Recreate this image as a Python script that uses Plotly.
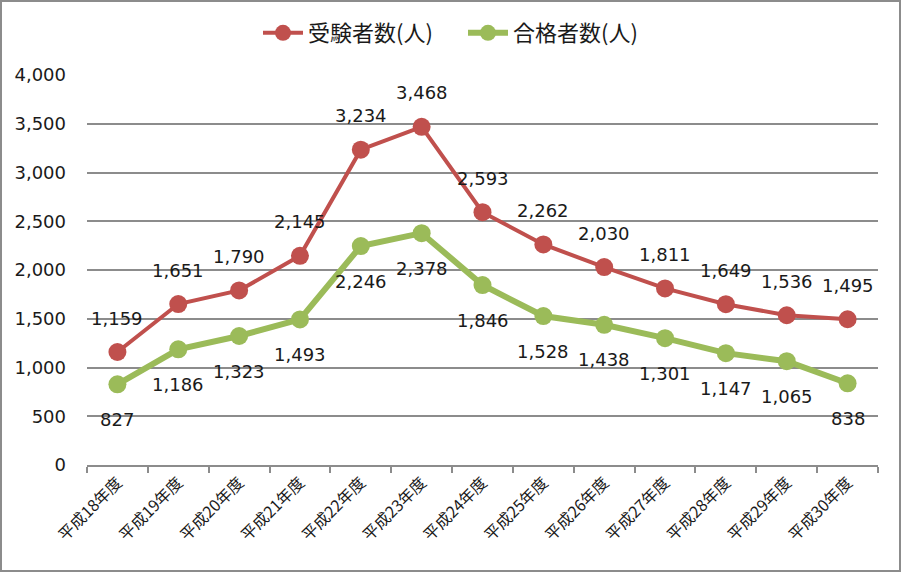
import plotly.graph_objects as go

categories = ["平成18年度", "平成19年度", "平成20年度", "平成21年度", "平成22年度", "平成23年度",
              "平成24年度", "平成25年度", "平成26年度", "平成27年度", "平成28年度", "平成29年度", "平成30年度"]
examinees = [1159, 1651, 1790, 2145, 3234, 3468, 2593, 2262, 2030, 1811, 1649, 1536, 1495]
passers = [827, 1186, 1323, 1493, 2246, 2378, 1846, 1528, 1438, 1301, 1147, 1065, 838]
y_ticks = [0, 500, 1000, 1500, 2000, 2500, 3000, 3500, 4000]

RED = "#C0504D"
GREEN = "#9BBB59"
FONT = "DejaVu Sans"
CJK = "Noto Sans CJK JP"

fig = go.Figure()
fig.add_trace(go.Scatter(x=categories, y=examinees, mode="lines+markers", name="受験者数(人)",
                         line=dict(color=RED, width=4), marker=dict(color=RED, size=18)))
fig.add_trace(go.Scatter(x=categories, y=passers, mode="lines+markers", name="合格者数(人)",
                         line=dict(color=GREEN, width=6), marker=dict(color=GREEN, size=18)))

annotations = []
for c, v in zip(categories, examinees):
    annotations.append(dict(x=c, y=v, text=f"{v:,}", showarrow=False, yshift=34,
                            font=dict(family=FONT, size=18, color="#1a1a1a")))
for c, v in zip(categories, passers):
    annotations.append(dict(x=c, y=v, text=f"{v:,}", showarrow=False, yshift=-35,
                            font=dict(family=FONT, size=18, color="#1a1a1a")))

L, R, T, B = 87, 878, 75, 465
W, H = 903, 572
pw, ph = R - L, B - T

def px(x):
    return (x - L) / pw

def py(y):
    return (B - y) / ph

fig.update_layout(
    width=W, height=H,
    margin=dict(l=L, r=W - R, t=T, b=H - B),
    paper_bgcolor="white", plot_bgcolor="white",
    font=dict(family=FONT, color="#1a1a1a"),
    showlegend=True,
    legend=dict(orientation="h", x=px(463), y=py(33), xanchor="center", yanchor="middle",
                font=dict(family=CJK, size=22, color="#1a1a1a"),
                bgcolor="rgba(0,0,0,0)", entrywidth=150, itemwidth=40),
    annotations=annotations,
    shapes=[dict(type="rect", xref="paper", yref="paper",
                 x0=px(1), x1=px(900), y0=py(571), y1=py(1),
                 line=dict(color="#8c8c8c", width=2), layer="below")],
)
fig.update_xaxes(type="category", range=[-0.5, 12.5], showgrid=False,
                 showline=True, linecolor="#8c8c8c", linewidth=2,
                 ticks="outside", tickson="boundaries", ticklen=6, tickcolor="#8c8c8c", tickwidth=2,
                 tickangle=-45, tickfont=dict(family=CJK, size=16, color="#1a1a1a"))
fig.update_yaxes(range=[0, 4000], tickvals=y_ticks, ticktext=[f"{v:,}" for v in y_ticks],
                 showgrid=True, gridcolor="#8c8c8c", gridwidth=1.5, zeroline=False, showline=False,
                 ticks="", ticklabelstandoff=20,
                 tickfont=dict(family=FONT, size=18, color="#1a1a1a"))

fig.write_html("out.html")
